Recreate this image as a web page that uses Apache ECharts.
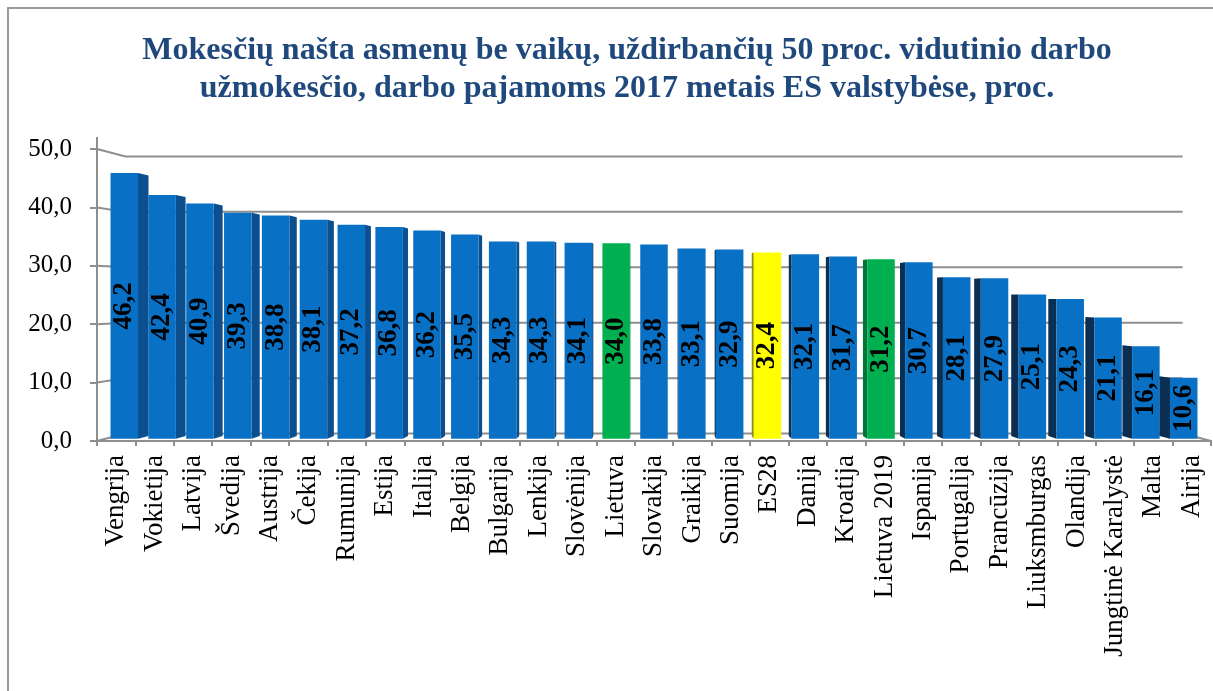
<!DOCTYPE html>
<html><head><meta charset="utf-8">
<script src="https://cdn.jsdelivr.net/npm/echarts@6/dist/echarts.min.js"></script>
<style>html,body{margin:0;padding:0;background:#fff}#c{width:1213px;height:691px}</style>
</head><body><div id="c"></div>
<script>
const titleLines = ['Mokesčių našta asmenų be vaikų, uždirbančių 50 proc. vidutinio darbo', 'užmokesčio, darbo pajamoms 2017 metais ES valstybėse, proc.'];
const categories = ['Vengrija','Vokietija','Latvija','Švedija','Austrija','Čekija','Rumunija','Estija','Italija','Belgija','Bulgarija','Lenkija','Slovėnija','Lietuva','Slovakija','Graikija','Suomija','ES28','Danija','Kroatija','Lietuva 2019','Ispanija','Portugalija','Prancūzija','Liuksmburgas','Olandija','Jungtinė Karalystė','Malta','Airija'];
const values = [46.2,42.4,40.9,39.3,38.8,38.1,37.2,36.8,36.2,35.5,34.3,34.3,34.1,34.0,33.8,33.1,32.9,32.4,32.1,31.7,31.2,30.7,28.1,27.9,25.1,24.3,21.1,16.1,10.6];
const greenCategories = ['Lietuva','Lietuva 2019'];
const yellowCategories = ['ES28'];
const yTickValues = [0,10,20,30,40,50];
const yTickLabels = ['0,0','10,0','20,0','30,0','40,0','50,0'];

const FONT = '"Liberation Serif","Times New Roman",serif';
const GRID_COLOR = '#8e8e8e';
const S_FRONT = 0.985, S_BACK = 0.965, S_WALL = 0.949;

function colorsFor(name){
  if (greenCategories.indexOf(name) >= 0) return {front:'#00B050', left:'#00773a', right:'#008a44'};
  if (yellowCategories.indexOf(name) >= 0) return {front:'#FFFF00', left:'#8f8f00', right:'#b5b500'};
  return {front:'#0871C6', left:'#0a2f52', right:'#0b4f8f'};
}
function proj(cs, s, x, y){
  const vx = cs.x + cs.width/2, vy = cs.y + cs.height/2;
  return [vx + s*(x - vx), vy + s*(y - vy)];
}

function renderGrid(params, api){
  const cs = params.coordSys;
  const v = api.value(1);
  const y = api.coord([0, v])[1];
  const x0 = cs.x, x1 = cs.x + cs.width;
  const a = proj(cs, S_WALL, x0, y), b = proj(cs, S_WALL, x1, y);
  const children = [
    {type:'polyline', shape:{points:[[x0,y], a, b]}, style:{stroke:GRID_COLOR, lineWidth:2, fill:null}}
  ];
  if (v === 0) {
    children.push({type:'line', shape:{x1:x1, y1:y, x2:b[0], y2:b[1]}, style:{stroke:GRID_COLOR, lineWidth:2}});
  }
  if (params.dataIndex === 0) {
    children.push({type:'line', shape:{x1:x0, y1:cs.y - 12, x2:x0, y2:cs.y + cs.height}, style:{stroke:GRID_COLOR, lineWidth:2}});
  }
  return {type:'group', children};
}

function renderBar(params, api){
  const cs = params.coordSys;
  const i = api.value(0), v = api.value(1);
  const top = api.coord([i, v]), base = api.coord([i, 0]);
  const bw = api.size([1, 0])[0];
  const fw = bw * 0.727;
  const xl = top[0] - fw/2, xr = top[0] + fw/2, yt = top[1], yb = base[1];
  const col = colorsFor(categories[i]);
  const vx = cs.x + cs.width/2;
  const children = [];
  const f = [proj(cs,S_FRONT,xl,yt), proj(cs,S_FRONT,xr,yt), proj(cs,S_FRONT,xr,yb), proj(cs,S_FRONT,xl,yb)];
  let sideX = null, sideColor = null;
  if (xr < vx) { sideX = xr; sideColor = col.right; }
  else if (xl > vx) { sideX = xl; sideColor = col.left; }
  if (sideX !== null) {
    children.push({type:'polygon', shape:{points:[proj(cs,S_FRONT,sideX,yt), proj(cs,S_BACK,sideX,yt), proj(cs,S_BACK,sideX,yb), proj(cs,S_FRONT,sideX,yb)]}, style:{fill:sideColor}});
  }
  children.push({type:'polygon', shape:{points:f}, style:{fill:col.front}});
  const c = proj(cs, S_FRONT, top[0], (yt + yb)/2);
  children.push({type:'text', x:c[0], y:c[1], rotation:Math.PI/2,
    style:{text: v.toFixed(1).replace('.', ','), font:'bold 27px ' + FONT, fill:'#000', align:'center', verticalAlign:'middle'}});
  return {type:'group', children};
}

const chart = echarts.init(document.getElementById('c'), null, {renderer:'canvas'});
chart.setOption({
  animation:false,
  backgroundColor:'#fff',
  title:{text: titleLines.join('\n'), left:627, top:32, textAlign:'center', padding:0,
    textStyle:{fontFamily:FONT, fontWeight:'bold', fontSize:32, lineHeight:38, color:'#1F497D'}},
  graphic:[
    {type:'polyline', shape:{points:[[8,691],[8,8],[1213,8]]}, style:{stroke:'#9a9a9a', lineWidth:2, fill:null}, z:0}
  ],
  grid:{left:97, right:2, top:149, bottom:250, containLabel:false},
  xAxis:{type:'category', data:categories,
    axisLine:{show:true, lineStyle:{color:GRID_COLOR, width:2}},
    axisTick:{show:true, length:5, interval:0, lineStyle:{color:GRID_COLOR, width:2}},
    axisLabel:{interval:0, rotate:90, margin:14, fontFamily:FONT, fontSize:27, color:'#000'},
    splitLine:{show:false}},
  yAxis:{type:'value', min:0, max:50, interval:10,
    axisLine:{show:false},
    axisTick:{show:true, length:7, lineStyle:{color:GRID_COLOR, width:2}},
    axisLabel:{margin:25, fontFamily:FONT, fontSize:25, color:'#000',
      formatter:function(v){ const k = yTickValues.indexOf(v); return k >= 0 ? yTickLabels[k] : ''; }},
    splitLine:{show:false}},
  series:[
    {type:'custom', z:1, renderItem:renderGrid, data: yTickValues.map(v => [0, v]), encode:{x:0, y:1}, silent:true},
    {type:'custom', z:2, renderItem:renderBar, data: values.map((v,i) => [i, v]), encode:{x:0, y:1}}
  ]
});
</script></body></html>
